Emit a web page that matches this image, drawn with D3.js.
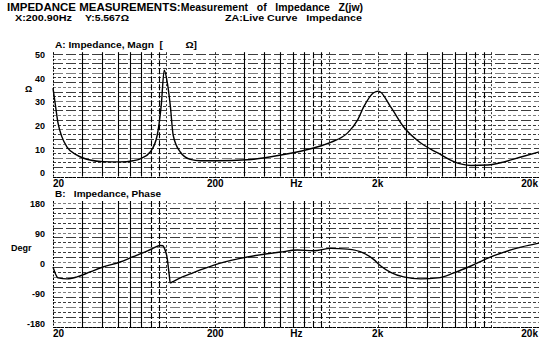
<!DOCTYPE html>
<html>
<head>
<meta charset="utf-8">
<script src="https://cdn.jsdelivr.net/npm/d3@7"></script>
<style>
  body { margin: 0; background: #fff; }
  svg { display: block; font-family: "Liberation Sans", Arial, sans-serif; font-weight: bold; }
  text { white-space: pre; }
</style>
</head>
<body>
<svg id="chart" width="539" height="341"></svg>
<script>
/* Data */
const magFreq = [20, 20.6, 21.5, 22.7, 24.4, 28.1, 33.8, 40.7, 51.8, 62.3, 69, 79.4, 87.7, 92.9, 96.9, 101, 105.5, 110, 121.6, 140, 161.5, 203, 315, 504, 806, 1026, 1306, 1506, 1640, 1888, 2028, 2405, 2892, 3683, 4690, 5887, 7497, 9550, 12000, 15280, 19720];
const magOhm  = [36, 29.7, 21, 15.3, 11, 7.6, 5.5, 4.8, 4.7, 5.2, 6, 8.9, 16, 28.8, 43.6, 38.6, 28.8, 16, 8.9, 5.8, 5.2, 5.2, 5.6, 7.6, 10.6, 13, 17, 22.5, 28, 34, 34.7, 28, 19.5, 12.7, 8.5, 4.8, 3.2, 3.4, 4.7, 6.8, 8.9];

const phaseFreq = [20, 20.6, 21.5, 24.4, 28.1, 33.8, 40.7, 51.8, 62.3, 72, 81.7, 91.5, 95, 97, 101, 104, 105.5, 108.6, 121.6, 140, 161.5, 194, 285, 504, 641, 806, 1026, 1306, 1640, 1888, 2090, 2405, 2892, 3683, 4690, 5887, 7497, 9550, 12000, 15280, 19720];
const phaseDeg  = [-9, -27, -42, -45, -39, -24, -9, 6, 22, 34, 46, 56, 55, 48, 18, -33, -57, -54, -42, -30, -18, -4, 17, 36, 42, 40, 47, 45, 33, 14, -6, -25, -39, -45, -42, -27, -6, 18, 36, 51, 63];

const freqTicks  = [20, 200, 2000, 20000];
const freqLabels = ["20", "200", "2k", "20k"];
const magTicks   = [0, 10, 20, 30, 40, 50];
const phaseTicks = [-180, -90, 0, 90, 180];

const svg = d3.select("#chart");

/* Scales */
const x = d3.scaleLog().domain([20, 20000]).range([53, 540]);
const yMag = d3.scaleLinear().domain([0, 50]).range([173, 55]);
const yPh = d3.scaleLinear().domain([-190, 190]).range([327, 201]);

const minorFreqs = x.ticks().filter(f => f > 20 && f < 20000);
const mantissa = d => d / Math.pow(10, Math.floor(Math.log10(d) + 1e-9));

/* Header text */
const title = svg.append("text").attr("x", 7).attr("y", 11)
  .attr("textLength", 356).attr("lengthAdjust", "spacingAndGlyphs");
title.append("tspan").style("font-size", "11px").text("IMPEDANCE MEASUREMENTS:");
title.append("tspan").style("font-size", "10px").text("Measurement   of   Impedance   Z(jw)");

svg.append("text").attr("x", 15).attr("y", 21).style("font-size", "9px")
  .attr("textLength", 57).attr("lengthAdjust", "spacingAndGlyphs").text("X:200.90Hz");
svg.append("text").attr("x", 85).attr("y", 21).style("font-size", "9px")
  .attr("textLength", 44).attr("lengthAdjust", "spacingAndGlyphs").text("Y:5.567Ω");
svg.append("text").attr("x", 225).attr("y", 21).style("font-size", "9px")
  .attr("textLength", 137).attr("lengthAdjust", "spacingAndGlyphs").text("ZA:Live Curve   Impedance");

/* Draws one panel: grid, frame, labels and the curve */
function drawPanel(y, hStep, solidVals, domainLo, domainHi, freqs, vals, title, titleLen, titleY, tickVals, unitText, unitX, unitY, labelY) {
  const g = svg.append("g");
  const top = y(domainHi), bottom = y(domainLo);

  // horizontal dashed grid
  const hVals = d3.range(domainLo, domainHi + 0.001, hStep);
  g.selectAll(".h").data(hVals).join("line")
    .attr("x1", x(20)).attr("x2", x(20000))
    .attr("y1", d => Math.round(y(d)) + 0.5).attr("y2", d => Math.round(y(d)) + 0.5)
    .attr("stroke", "#111")
    .attr("stroke-width", d => solidVals.includes(d) ? 1.2 : 0.9)
    .attr("stroke-dasharray", (d, i) => solidVals.includes(d) ? null : (i % 2 ? "3,2" : "10,3"))
    .attr("opacity", (d, i) => i % 3 === 1 ? 0.6 : 0.9);

  // vertical grid
  g.selectAll(".v").data(minorFreqs).join("line")
    .attr("x1", d => Math.round(x(d)) + 0.5).attr("x2", d => Math.round(x(d)) + 0.5)
    .attr("y1", top).attr("y2", bottom)
    .attr("stroke", "#000")
    .attr("stroke-width", d => mantissa(d) < 2.5 ? 0.8 : 1.1)
    .attr("stroke-dasharray", d => mantissa(d) < 2.5 ? "2,2" : (mantissa(d) > 7.5 ? "6,2" : null));

  // frame edges
  g.append("line").attr("x1", x(20) + 0.5).attr("x2", x(20) + 0.5).attr("y1", top).attr("y2", bottom)
    .attr("stroke", "#000").attr("stroke-dasharray", "2,1.5");
  g.append("line").attr("x1", x(20)).attr("x2", x(20000)).attr("y1", Math.round(bottom) + 0.5).attr("y2", Math.round(bottom) + 0.5)
    .attr("stroke", "#000").attr("stroke-dasharray", "3,1");

  // title
  g.append("text").attr("x", 55).attr("y", titleY).style("font-size", "9px")
    .attr("textLength", titleLen).attr("lengthAdjust", "spacingAndGlyphs").text(title);

  // y tick labels
  g.selectAll(".yl").data(tickVals).join("text")
    .attr("x", 45).attr("y", d => y(d)).attr("dy", "0.35em")
    .attr("text-anchor", "end").style("font-size", "9px")
    .text(d => String(d));
  g.append("text").attr("x", unitX).attr("y", unitY).style("font-size", "9px").text(unitText);

  // x labels
  g.selectAll(".xl").data(freqTicks).join("text")
    .attr("x", (d, i) => i === 0 ? x(d) : (i === 3 ? 538 : x(d)))
    .attr("y", labelY)
    .attr("text-anchor", (d, i) => i === 0 ? "start" : (i === 3 ? "end" : "middle"))
    .style("font-size", "10px")
    .text((d, i) => freqLabels[i]);
  g.append("text").attr("x", x(632)).attr("y", labelY).attr("text-anchor", "middle")
    .style("font-size", "10px").text("Hz");

  // curve
  const pts = freqs.map((f, i) => [f, vals[i]]);
  g.append("path").datum(pts)
    .attr("fill", "none").attr("stroke", "#000").attr("stroke-width", 1.4)
    .attr("d", d3.line().x(d => x(d[0])).y(d => y(d[1])).curve(d3.curveMonotoneX));
}

drawPanel(yMag, 2, [50], -1.5, 51.2, magFreq, magOhm,
  "A: Impedance, Magn  [        Ω]", 142, 48,
  magTicks, "Ω", 25, 92, 187);

drawPanel(yPh, 15, [135, -135], -190, 190, phaseFreq, phaseDeg,
  "B:   Impedance, Phase", 106, 197,
  phaseTicks, "Degr", 11, 251, 337);
</script>
</body>
</html>
